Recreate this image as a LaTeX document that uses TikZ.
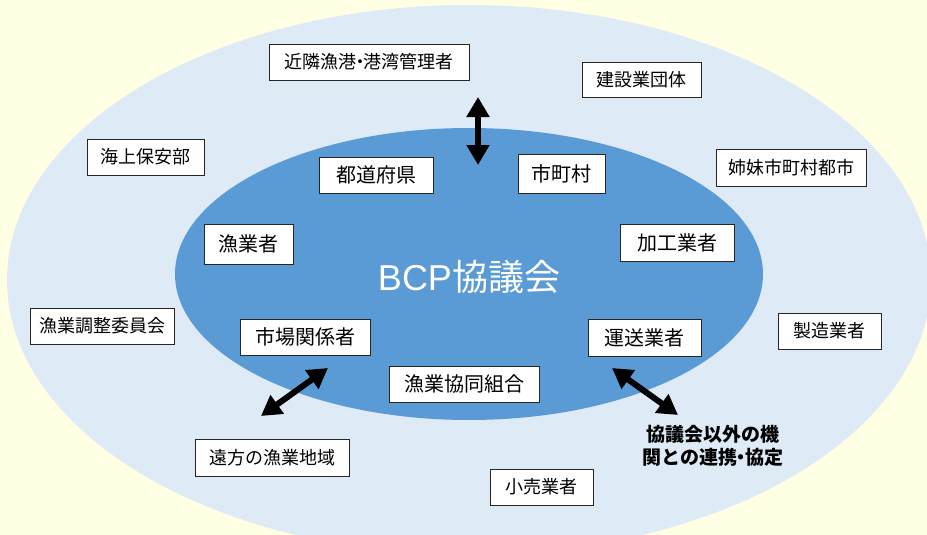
\documentclass[tikz,border=0pt]{standalone}
\usepackage{fontspec}
\setmainfont{Noto Sans CJK JP}
\newfontfamily\latinsans{Liberation Sans}
\usetikzlibrary{arrows.meta}
\definecolor{bgcream}{HTML}{FFFFE3}
\definecolor{outerblue}{HTML}{DEEAF6}
\definecolor{innerblue}{HTML}{5B9BD5}
\newcommand{\ndot}{\kern-0.3em・\kern-0.3em}
\begin{document}
\begin{tikzpicture}[x=1pt,y=-1pt,
  box/.style={draw=black!85, line width=0.9pt, fill=white, inner sep=0pt, font=\fontsize{18}{20}\selectfont},
  inbox/.style={box, font=\fontsize{20}{22}\selectfont},
  dblarrow/.style={line width=6pt, {Triangle[width=22pt,length=20pt]}-{Triangle[width=22pt,length=20pt]}}]
\useasboundingbox (0,0) rectangle (927,535);
\clip (0,0) rectangle (927,535);
\fill[bgcream] (0,0) rectangle (927,535);
\fill[outerblue] (469,280) ellipse [x radius=462pt, y radius=275pt];
\fill[innerblue] (469,274) ellipse [x radius=294pt, y radius=146pt];

% outer ring
\node[box, minimum width=200pt, minimum height=36pt, font=\fontsize{18}{20}\selectfont] (kinrin) at (369,62) {近隣漁港\ndot 港湾管理者};
\node[box, minimum width=119pt, minimum height=35pt] (kensetsu) at (641.5,79.5) {建設業団体};
\node[box, minimum width=150pt, minimum height=37pt] (shimai) at (791,167.5) {姉妹市町村都市};
\node[box, minimum width=117pt, minimum height=36pt] (kaijo) at (145.5,157) {海上保安部};
\node[box, minimum width=144pt, minimum height=36pt] (chosei) at (102,326) {漁業調整委員会};
\node[box, minimum width=103pt, minimum height=36pt] (seizo) at (829.5,331) {製造業者};
\node[box, minimum width=154pt, minimum height=37pt] (enpo) at (272,457.5) {遠方の漁業地域};
\node[box, minimum width=103pt, minimum height=36pt] (kouri) at (541.5,487) {小売業者};

% inner ellipse
\node[inbox, minimum width=114pt, minimum height=36pt] (todofuken) at (376,175) {都道府県};
\node[inbox, minimum width=87pt, minimum height=39pt] (shichoson) at (561.5,173.5) {市町村};
\node[inbox, minimum width=89pt, minimum height=40pt] (gyogyosha) at (248.5,244) {漁業者};
\node[inbox, minimum width=114pt, minimum height=37pt] (kako) at (677,242.5) {加工業者};
\node[inbox, minimum width=113pt, minimum height=37pt] (unso) at (644.5,337.5) {運送業者};
\node[inbox, minimum width=130pt, minimum height=36pt] (ichiba) at (305,337) {市場関係者};
\node[inbox, minimum width=150pt, minimum height=36pt] (kyodo) at (464,384) {漁業協同組合};

\node[text=white, font=\fontsize{36}{40}\selectfont, inner sep=0pt] (bcp) at (469,277) {{\latinsans BCP}協議会};

\node[font=\bfseries\fontsize{19}{23}\selectfont, align=center, inner sep=0pt] (renkei) at (713,446) {協議会以外の機\\関との連携\ndot 協定};

% arrows
\coordinate (v1) at (478,97);
\coordinate (v2) at (478,165);
\coordinate (a1) at (328,368);
\coordinate (a2) at (261,416);
\coordinate (b1) at (612,368);
\coordinate (b2) at (678,415);
\draw[dblarrow] (v1) -- (v2);
\draw[dblarrow] (a1) -- (a2);
\draw[dblarrow] (b1) -- (b2);
\end{tikzpicture}
\end{document}
